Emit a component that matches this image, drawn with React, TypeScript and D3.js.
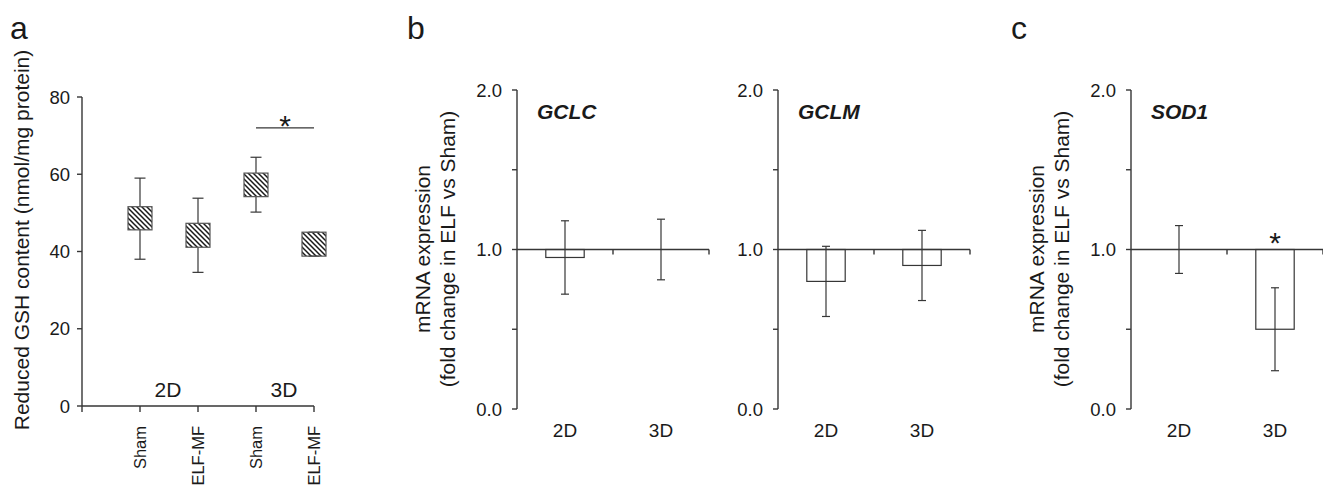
import React from "react";
import * as d3 from "d3";

// ---------- Panel a data ----------
const gshCategories = ["Sham", "ELF-MF", "Sham", "ELF-MF"];
const gshGroups = ["2D", "3D"];
const gshBoxLow = [45.6, 41.1, 54.2, 38.8];
const gshBoxHigh = [51.6, 47.3, 60.3, 45.0];
const gshWhiskerLow = [38.0, 34.6, 50.2, 38.8];
const gshWhiskerHigh = [59.0, 53.8, 64.4, 45.0];
const gshTicks = [0, 20, 40, 60, 80];
const gshSignificance = { from: 3, to: 4, value: 72 };

// ---------- Panels b / c data ----------
const geneConditions = ["2D", "3D"];
const foldTicks = [0, 0.5, 1, 1.5, 2];
const foldLabeledTicks = [0, 1, 2];
const gclcMean = [0.95, 1.0];
const gclcLow = [0.72, 0.81];
const gclcHigh = [1.18, 1.19];
const gclmMean = [0.8, 0.9];
const gclmLow = [0.58, 0.68];
const gclmHigh = [1.02, 1.12];
const sod1Mean = [1.0, 0.5];
const sod1Low = [0.85, 0.24];
const sod1High = [1.15, 0.76];
const sod1Significant = [false, true];

const LINE = "#363636";
const TEXT = "#1a1a1a";
const FONT = "Liberation Sans, Arial, Helvetica, sans-serif";

function PanelA() {
  const x = d3.scaleLinear().domain([0, 4]).range([82, 314]);
  const y = d3.scaleLinear().domain([0, 80]).range([406, 97]);
  const boxW = 24;
  const capW = 11;
  return (
    <g>
      <defs>
        <pattern id="hatch" patternUnits="userSpaceOnUse" width={5} height={5}>
          <path d="M-1,-1 L6,6 M-1,4 L1,6 M4,-1 L6,1" stroke="#1a1a1a" strokeWidth={1.5} />
        </pattern>
      </defs>
      {/* y axis */}
      <line x1={x(0)} x2={x(0)} y1={y(0)} y2={y(80)} stroke={LINE} strokeWidth={1.4} />
      {gshTicks.map((t) => (
        <g key={t}>
          <line x1={x(0) - 5} x2={x(0)} y1={y(t)} y2={y(t)} stroke={LINE} strokeWidth={1.4} />
          <text x={x(0) - 12} y={y(t)} dy="0.36em" textAnchor="end" fontSize={18.5} fill={TEXT}>
            {t}
          </text>
        </g>
      ))}
      {/* x axis */}
      <line x1={x(0)} x2={x(4)} y1={y(0)} y2={y(0)} stroke={LINE} strokeWidth={1.4} />
      {[0, 1, 2, 3, 4].map((i) => (
        <line key={i} x1={x(i)} x2={x(i)} y1={y(0)} y2={y(0) + 6} stroke={LINE} strokeWidth={1.4} />
      ))}
      {gshCategories.map((c, i) => (
        <text
          key={i}
          transform={`translate(${x(i + 1)},426) rotate(-90)`}
          textAnchor="end"
          dy="0.36em"
          fontSize={16.5}
          fill={TEXT}
        >
          {c}
        </text>
      ))}
      {gshGroups.map((g, gi) => (
        <text key={g} x={x(gi * 2 + 1.5) - 1} y={y(0) - 9} textAnchor="middle" fontSize={21} fill={TEXT}>
          {g}
        </text>
      ))}
      {/* boxes */}
      {gshCategories.map((c, i) => {
        const cx = x(i + 1);
        return (
          <g key={i}>
            <line x1={cx} x2={cx} y1={y(gshBoxHigh[i])} y2={y(gshWhiskerHigh[i])} stroke={LINE} strokeWidth={1.2} />
            <line x1={cx} x2={cx} y1={y(gshBoxLow[i])} y2={y(gshWhiskerLow[i])} stroke={LINE} strokeWidth={1.2} />
            <line x1={cx - capW / 2} x2={cx + capW / 2} y1={y(gshWhiskerHigh[i])} y2={y(gshWhiskerHigh[i])} stroke={LINE} strokeWidth={1.2} />
            <line x1={cx - capW / 2} x2={cx + capW / 2} y1={y(gshWhiskerLow[i])} y2={y(gshWhiskerLow[i])} stroke={LINE} strokeWidth={1.2} />
            <rect
              x={cx - boxW / 2}
              y={y(gshBoxHigh[i])}
              width={boxW}
              height={y(gshBoxLow[i]) - y(gshBoxHigh[i])}
              fill="url(#hatch)"
              stroke="#555"
              strokeWidth={1.2}
            />
          </g>
        );
      })}
      {/* significance */}
      <line
        x1={x(gshSignificance.from)}
        x2={x(gshSignificance.to)}
        y1={y(gshSignificance.value)}
        y2={y(gshSignificance.value)}
        stroke={LINE}
        strokeWidth={1.4}
      />
      <text
        x={(x(gshSignificance.from) + x(gshSignificance.to)) / 2}
        y={y(gshSignificance.value) + 8}
        textAnchor="middle"
        fontSize={30}
        fill={TEXT}
      >
        *
      </text>
      {/* y label */}
      <text transform="translate(22,240) rotate(-90)" textAnchor="middle" dy="0.35em" fontSize={21} fill={TEXT}>
        Reduced GSH content (nmol/mg protein)
      </text>
      <text x={10} y={39} fontSize={32} fill={TEXT}>
        a
      </text>
    </g>
  );
}

type GeneProps = {
  axisX: number;
  name: string;
  mean: number[];
  low: number[];
  high: number[];
  significant?: boolean[];
  yLabelX?: number;
};

function GenePanel({ axisX, name, mean, low, high, significant, yLabelX }: GeneProps) {
  const y = d3.scaleLinear().domain([0, 2]).range([409, 90]);
  const x = d3.scaleBand<string>().domain(geneConditions).range([axisX, axisX + 192]).padding(0);
  const barW = x.bandwidth() * 0.4;
  const capW = 8;
  return (
    <g>
      {/* y axis */}
      <line x1={axisX} x2={axisX} y1={y(0)} y2={y(2)} stroke={LINE} strokeWidth={1.4} />
      {foldTicks.map((t) => (
        <line key={t} x1={axisX - 5} x2={axisX} y1={y(t)} y2={y(t)} stroke={LINE} strokeWidth={1.4} />
      ))}
      {foldLabeledTicks.map((t) => (
        <text key={t} x={axisX - 15} y={y(t)} dy="0.36em" textAnchor="end" fontSize={18.5} fill={TEXT}>
          {t.toFixed(1)}
        </text>
      ))}
      {/* bars */}
      {geneConditions.map((c, i) => {
        const cx = (x(c) as number) + x.bandwidth() / 2;
        const top = Math.min(y(mean[i]), y(1));
        const h = Math.abs(y(mean[i]) - y(1));
        return (
          <g key={c}>
            <rect x={cx - barW / 2} y={top} width={barW} height={h} fill="#fff" stroke={LINE} strokeWidth={1.2} />
            <line x1={cx} x2={cx} y1={y(low[i])} y2={y(high[i])} stroke={LINE} strokeWidth={1.2} />
            <line x1={cx - capW / 2} x2={cx + capW / 2} y1={y(low[i])} y2={y(low[i])} stroke={LINE} strokeWidth={1.2} />
            <line x1={cx - capW / 2} x2={cx + capW / 2} y1={y(high[i])} y2={y(high[i])} stroke={LINE} strokeWidth={1.2} />
            <text x={cx} y={437} textAnchor="middle" fontSize={19} fill={TEXT}>
              {c}
            </text>
            {significant && significant[i] ? (
              <text x={cx} y={y(1) + 3} textAnchor="middle" fontSize={30} fill={TEXT}>
                *
              </text>
            ) : null}
          </g>
        );
      })}
      {/* x axis at 1.0 */}
      <line x1={axisX} x2={axisX + 192} y1={y(1)} y2={y(1)} stroke={LINE} strokeWidth={1.4} />
      {geneConditions.map((c) => (
        <line
          key={c}
          x1={(x(c) as number) + x.bandwidth()}
          x2={(x(c) as number) + x.bandwidth()}
          y1={y(1)}
          y2={y(1) + 5}
          stroke={LINE}
          strokeWidth={1.4}
        />
      ))}
      <text x={axisX + 20} y={119} fontSize={21} fontWeight="bold" fontStyle="italic" fill={TEXT}>
        {name}
      </text>
      {yLabelX !== undefined ? (
        <text transform={`translate(${yLabelX},249) rotate(-90)`} textAnchor="middle" fontSize={21} fill={TEXT}>
          <tspan x={0} dy="-0.3em">mRNA expression</tspan>
          <tspan x={0} dy="1.2em">(fold change in ELF vs Sham)</tspan>
        </text>
      ) : null}
    </g>
  );
}

export default function App() {
  return (
    <svg
      width={1323}
      height={490}
      style={{ position: "absolute", left: 0, top: 0, background: "#fff", fontFamily: FONT }}
    >
      <rect width={1323} height={490} fill="#fff" />
      <PanelA />
      <GenePanel axisX={517} name="GCLC" mean={gclcMean} low={gclcLow} high={gclcHigh} yLabelX={436} />
      <GenePanel axisX={778} name="GCLM" mean={gclmMean} low={gclmLow} high={gclmHigh} />
      <GenePanel
        axisX={1131}
        name="SOD1"
        mean={sod1Mean}
        low={sod1Low}
        high={sod1High}
        significant={sod1Significant}
        yLabelX={1050}
      />
      <text x={407} y={39} fontSize={32} fill={TEXT} fontFamily={FONT}>
        b
      </text>
      <text x={1011} y={39} fontSize={32} fill={TEXT} fontFamily={FONT}>
        c
      </text>
    </svg>
  );
}
